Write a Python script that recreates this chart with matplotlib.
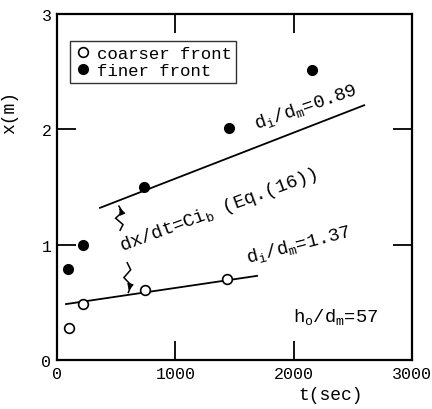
import matplotlib.pyplot as plt
import numpy as np
from matplotlib.path import Path
import matplotlib.patches as mpatches

plt.rcParams['font.family'] = 'Liberation Mono'
plt.rcParams['mathtext.fontset'] = 'custom'
plt.rcParams['mathtext.rm'] = 'Liberation Mono'
plt.rcParams['mathtext.it'] = 'Liberation Mono'

# data
t_fine = [93, 220, 735, 1455, 2155]
x_fine = [0.79, 1.00, 1.50, 2.01, 2.52]
t_coarse = [100, 220, 745, 1440]
x_coarse = [0.28, 0.49, 0.61, 0.70]

# fitted lines (Eq. 16)
t_line_fine = [363, 2595]
x_line_fine = [1.32, 2.21]
t_line_coarse = [76, 1690]
x_line_coarse = [0.485, 0.73]

fig = plt.figure(figsize=(4.32, 4.10), dpi=100)
ax = fig.add_axes([0.132, 0.1195, 0.822, 0.8435])

ax.plot(t_line_fine, x_line_fine, color='black', lw=1.3)
ax.plot(t_line_coarse, x_line_coarse, color='black', lw=1.3)
ax.plot(t_coarse, x_coarse, 'o', mfc='white', mec='black', ms=7, mew=1.2,
        label='coarser front', zorder=3)
ax.plot(t_fine, x_fine, 'o', color='black', ms=7, label='finer front', zorder=3)

ax.set_xlim(0, 3000)
ax.set_ylim(0, 3)
ax.set_xticks([0, 1000, 2000, 3000])
ax.set_yticks([0, 1, 2, 3])
ax.tick_params(direction='in', length=14, width=1.3, top=True, right=True,
               labelsize=12, pad=4)
for s in ax.spines.values():
    s.set_linewidth(1.6)
ax.set_xlabel('t(sec)', fontsize=13)
ax.xaxis.set_label_coords(0.77, -0.075)
ax.set_ylabel('x(m)', fontsize=13)
ax.yaxis.set_label_coords(-0.11, 0.72)

leg = ax.legend(loc='upper left', bbox_to_anchor=(0.037, 0.922), frameon=True,
                fancybox=False, edgecolor='black', fontsize=12.5,
                handletextpad=0.3, borderpad=0.25, handlelength=1.0,
                labelspacing=0.15, borderaxespad=0)
leg.get_frame().set_linewidth(1.0)

ax.text(1680, 2.01, r'$\mathrm{d_i/d_m}$=0.89', rotation=19, fontsize=13.5,
        rotation_mode='anchor')
ax.text(550, 0.95, r'dx/dt=Ci$_\mathrm{b}$ (Eq.(16))', rotation=20.5,
        fontsize=13.5, rotation_mode='anchor')
ax.text(1615, 0.85, r'$\mathrm{d_i/d_m}$=1.37', rotation=14.5, fontsize=13.5,
        rotation_mode='anchor')
ax.text(1995, 0.34, r'$\mathrm{h_o/d_m}$=57', fontsize=13.5)

# squiggly arrows pointing at the lines
def squiggle(x0, y0, x1, y1):
    xs = np.linspace(x0, x1, 5)
    ys = np.linspace(y0, y1, 5)
    off = [0, 30, -30, 30, 0]
    verts = [(xs[i] + off[i], ys[i]) for i in range(5)]
    codes = [Path.MOVETO] + [Path.LINETO] * 4
    ax.add_patch(mpatches.PathPatch(Path(verts, codes), fill=False, lw=1.1))
    ax.annotate('', xy=(x1, y1), xytext=(verts[-2][0] - 10, verts[-2][1]),
                arrowprops=dict(arrowstyle='-|>', color='black', lw=1.0,
                                mutation_scale=9))

squiggle(530, 1.12, 520, 1.34)
squiggle(590, 0.85, 600, 0.58)

fig.savefig('out.png', dpi=100)
